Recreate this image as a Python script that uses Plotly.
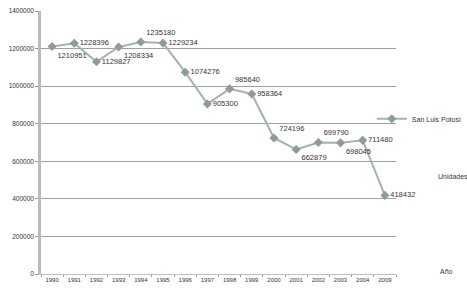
import plotly.graph_objects as go

years = ["1990", "1991", "1992", "1993", "1994", "1995", "1996", "1997",
         "1998", "1999", "2000", "2001", "2002", "2003", "2004", "2009"]
values = [1210951, 1228396, 1129827, 1208334, 1235180, 1229234, 1074276, 905300,
          985640, 958364, 724196, 662879, 699790, 698045, 711480, 418432]
label_pos = ["bottom right", "middle right", "middle right", "bottom right", "top right",
             "middle right", "middle right", "middle right", "top right", "middle right",
             "top right", "bottom right", "top right", "bottom right", "middle right",
             "middle right"]
series_name = "San Luis Potosí"

fig = go.Figure()
fig.add_trace(go.Scatter(
    x=years, y=values, mode="lines+markers+text", name=series_name,
    text=[str(v) for v in values], textposition=label_pos,
    textfont=dict(family="Liberation Sans, Arial", size=7.5, color="#333"),
    line=dict(color="#a3b5aa", width=2),
    marker=dict(symbol="diamond", size=7, color="#8c9e92"),
    cliponaxis=False,
))

fig.update_layout(
    width=467, height=288,
    margin=dict(l=41, r=71, t=11, b=14, autoexpand=False),
    paper_bgcolor="white", plot_bgcolor="white",
    font=dict(family="Liberation Sans, Arial", size=6.5, color="#333"),
    showlegend=True,
    legend=dict(x=0.932, y=0.59, xanchor="left", yanchor="middle",
                font=dict(size=7, color="#333"), bgcolor="rgba(0,0,0,0)",
                itemwidth=30, tracegroupgap=0, borderwidth=0),
    xaxis=dict(type="category", showgrid=False, showline=True, linecolor="#c0c0c0",
               linewidth=1, ticks="outside", tickson="boundaries", ticklen=2,
               tickcolor="#999", tickfont=dict(size=6), tickangle=0,
               range=[-0.5, 15.5]),
    yaxis=dict(range=[0, 1400000], dtick=200000, showgrid=True, gridcolor="#a0a0a0",
               gridwidth=1.3, showline=True, linecolor="#bbbbbb", linewidth=2.5,
               ticks="outside", ticklen=3, tickcolor="#999", tickformat="d",
               tickfont=dict(size=6.5), zeroline=False),
    annotations=[
        dict(text="Unidades", xref="paper", yref="paper", x=1.113, y=0.37,
             showarrow=False, xanchor="left", font=dict(size=7, color="#333")),
        dict(text="Año", xref="paper", yref="paper", x=1.118, y=-0.012,
             showarrow=False, xanchor="left", font=dict(size=7, color="#333")),
    ],
)

fig.write_html("out.html", config={"displayModeBar": False},
               post_script="document.body.style.margin='0';")
